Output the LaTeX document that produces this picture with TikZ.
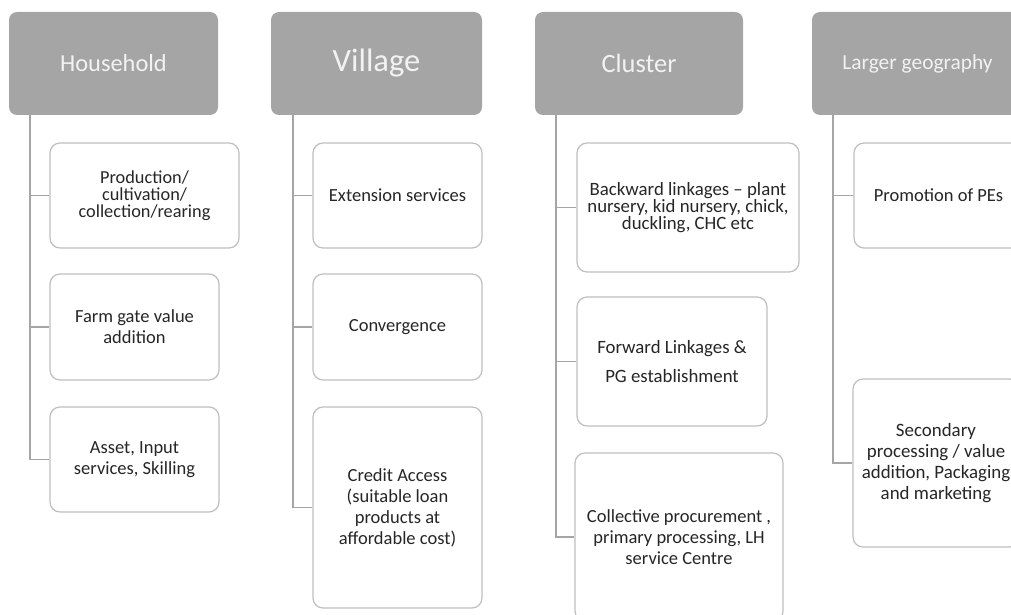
\documentclass[tikz,border=0pt]{standalone}
\usepackage{fontspec}
\setmainfont{Carlito}
\definecolor{headgray}{HTML}{A5A5A5}
\definecolor{boxgray}{HTML}{BFBFBF}
\definecolor{linkgray}{HTML}{A5A5A5}
\definecolor{textdark}{HTML}{262626}
\begin{document}
\begin{tikzpicture}[x=1pt,y=-1pt,
    head/.style={fill=headgray,rounded corners=8pt,text=white!95!black,inner sep=0pt,minimum height=103pt},
    item/.style={draw=boxgray,line width=1.2pt,fill=white,rounded corners=10pt,align=center,text=textdark,inner sep=0pt,font=\fontsize{18.5}{21}\selectfont},
    link/.style={draw=linkgray,line width=1.5pt}]
        \clip (0,0) rectangle (1011,615);
        \node[head,minimum width=209pt,font=\fontsize{24.4}{28}\selectfont] (hh) at (113.5,63.5) {Household};
        \node[head,minimum width=211pt,font=\fontsize{32.5}{36}\selectfont] (vl) at (376.5,63.5) {Village};
        \node[head,minimum width=208pt,font=\fontsize{26.4}{30}\selectfont] (cl) at (639,63.5) {Cluster};
        \node[head,minimum width=211pt,font=\fontsize{21.4}{25}\selectfont] (lg) at (917.5,63.5) {Larger geography};
        \node[item,minimum width=189pt,minimum height=105pt,font=\fontsize{18.3}{17.2}\selectfont] (h1) at (144.5,195.5) {Production/\\cultivation/\\collection/rearing};
        \node[item,minimum width=169pt,minimum height=106pt] (h2) at (134.5,327) {Farm gate value\\addition};
        \node[item,minimum width=169pt,minimum height=105pt] (h3) at (134.5,459.5) {Asset, Input\\services, Skilling};
        \node[item,minimum width=169pt,minimum height=105pt] (v1) at (397.5,195.5) {Extension services};
        \node[item,minimum width=169pt,minimum height=106pt] (v2) at (397.5,327) {Convergence};
        \node[item,minimum width=169pt,minimum height=201pt] (v3) at (397.5,507.5) {Credit Access\\(suitable loan\\products at\\affordable cost)};
        \node[item,minimum width=222pt,minimum height=129pt,font=\fontsize{18.8}{17.2}\selectfont] (c1) at (688,207.5) {Backward linkages –\ plant\\nursery, kid nursery, chick,\\duckling, CHC etc};
        \node[item,minimum width=190pt,minimum height=129pt,font=\fontsize{18.8}{21}\selectfont] (c2) at (672,361.5) {Forward Linkages \&\\[8pt]PG establishment};
        \node[item,minimum width=208pt,minimum height=168pt] (c3) at (679,537) {Collective procurement ,\\primary processing, LH\\service Centre};
        \node[item,minimum width=169pt,minimum height=105pt] (l1) at (938.5,195.5) {Promotion of PEs};
        \node[item,minimum width=166pt,minimum height=168pt,font=\fontsize{18.9}{21}\selectfont] (l2) at (936,463) {Secondary\\processing / value\\addition, Packaging\\and marketing};
        \draw[link] ([xshift=21pt]hh.south west) |- (h1.west);
        \draw[link] ([xshift=21pt]hh.south west) |- (h2.west);
        \draw[link] ([xshift=21pt]hh.south west) |- (h3.west);
        \draw[link] ([xshift=22pt]vl.south west) |- (v1.west);
        \draw[link] ([xshift=22pt]vl.south west) |- (v2.west);
        \draw[link] ([xshift=22pt]vl.south west) |- (v3.west);
        \draw[link] ([xshift=21pt]cl.south west) |- (c1.west);
        \draw[link] ([xshift=21pt]cl.south west) |- (c2.west);
        \draw[link] ([xshift=21pt]cl.south west) |- (c3.west);
        \draw[link] ([xshift=21pt]lg.south west) |- (l1.west);
        \draw[link] ([xshift=21pt]lg.south west) |- (l2.west);
    \end{tikzpicture}
\end{document}
